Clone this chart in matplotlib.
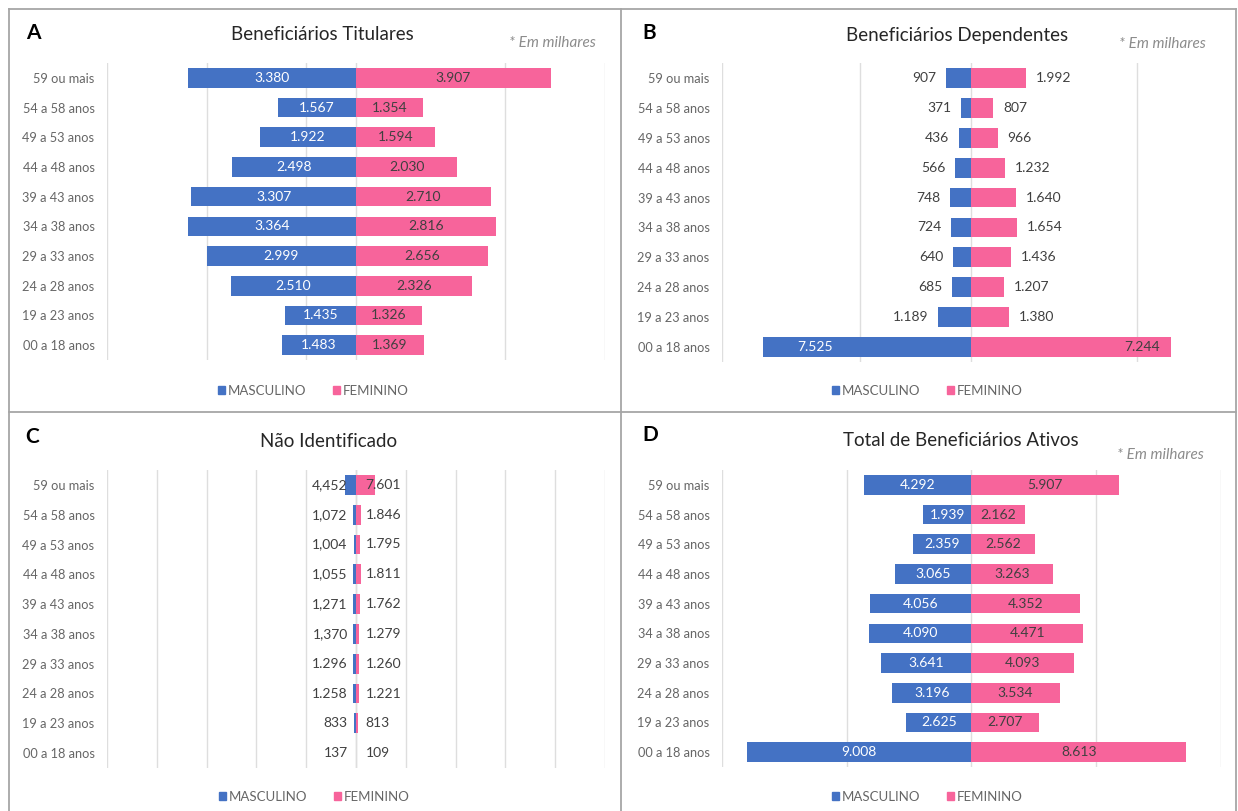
import matplotlib
matplotlib.use('Agg')
import matplotlib.pyplot as plt
from matplotlib.lines import Line2D
from matplotlib.patches import Patch
import numpy as np

plt.rcParams.update({
    'font.family': ['Lato', 'DejaVu Sans'],
    'figure.facecolor': 'w',
})

# faixas etarias, de cima para baixo
faixas = ['59 ou mais', '54 a 58 anos', '49 a 53 anos', '44 a 48 anos',
          '39 a 43 anos', '34 a 38 anos', '29 a 33 anos', '24 a 28 anos',
          '19 a 23 anos', '00 a 18 anos']

titulares_masc = [3380, 1567, 1922, 2498, 3307, 3364, 2999, 2510, 1435, 1483]
titulares_fem = [3907, 1354, 1594, 2030, 2710, 2816, 2656, 2326, 1326, 1369]

dependentes_masc = [907, 371, 436, 566, 748, 724, 640, 685, 1189, 7525]
dependentes_fem = [1992, 807, 966, 1232, 1640, 1654, 1436, 1207, 1380, 7244]

nao_ident_masc = [4452, 1072, 1004, 1055, 1271, 1370, 1296, 1258, 833, 137]
nao_ident_fem = [7601, 1846, 1795, 1811, 1762, 1279, 1260, 1221, 813, 109]
# separador de milhar usado nos rotulos masculinos do painel C
sep_nao_ident_masc = [',', ',', ',', ',', ',', ',', '.', '.', '', '']

total_masc = [4292, 1939, 2359, 3065, 4056, 4090, 3641, 3196, 2625, 9008]
total_fem = [5907, 2162, 2562, 3263, 4352, 4471, 4093, 3534, 2707, 8613]

AZUL = '#4472c4'
ROSA = '#f7649b'
TXT = '#404040'
CINZA = '#666666'
GRADE = '#dedede'
FS = 9.5

W, H = 1238, 811
fig = plt.figure(figsize=(W / 100, H / 100), dpi=100)


def px_axes(x0, y0, x1, y1):
    return fig.add_axes([x0 / W, 1 - y1 / H, (x1 - x0) / W, (y1 - y0) / H])


def fmt(v, sep='.'):
    return f'{v:,}'.replace(',', sep)


def fig_text(x, y, s, **kw):
    fig.text(x / W, 1 - y / H, s, **kw)


def base_axes(box, xlim, grid):
    ax = px_axes(*box)
    ax.set_xlim(*xlim)
    ax.set_ylim(-0.5, len(faixas) - 0.5)
    for g in grid:
        ax.axvline(g, color=GRADE, lw=1, zorder=0)
    ax.axvline(0, color=GRADE, lw=1, zorder=0)
    for s in ax.spines.values():
        s.set_visible(False)
    ax.set_xticks([])
    ypos = np.arange(len(faixas))[::-1]
    ax.set_yticks(ypos)
    ax.set_yticklabels(faixas, fontsize=9.2, color=CINZA)
    ax.tick_params(axis='y', length=0, pad=9)
    return ax, ypos


def bars(ax, ypos, masc, fem):
    ax.barh(ypos, -np.array(masc), height=0.66, color=AZUL, zorder=2)
    ax.barh(ypos, np.array(fem), height=0.66, color=ROSA, zorder=2)


def labels_center(ax, ypos, masc, fem):
    for y, m, f in zip(ypos, masc, fem):
        ax.text(-m / 2, y, fmt(m), ha='center', va='center', fontsize=FS + 0.5,
                color='white', zorder=3)
        ax.text(f / 2, y, fmt(f), ha='center', va='center', fontsize=FS + 0.5,
                color=TXT, zorder=3)


def legenda(cx, cy):
    handles = [Patch(color=AZUL), Patch(color=ROSA)]
    leg = fig.legend(handles, ['MASCULINO', 'FEMININO'], loc='center',
                     bbox_to_anchor=(cx / W, 1 - cy / H), ncol=2, frameon=False,
                     fontsize=FS, handlelength=0.55, handleheight=0.55,
                     handletextpad=0.2, columnspacing=2.0)
    for t in leg.get_texts():
        t.set_color(CINZA)


# A - Beneficiarios Titulares
axA, yA = base_axes((107, 63, 605, 360), (-5000, 5000),
                    [-5000, -3000, -1000, 3000, 5000])
bars(axA, yA, titulares_masc, titulares_fem)
labels_center(axA, yA, titulares_masc, titulares_fem)

# B - Beneficiarios Dependentes
axB, yB = base_axes((722, 63, 1220, 362), (-9000, 9000), [-9000, -4000, 6000])
bars(axB, yB, dependentes_masc, dependentes_fem)
for y, m, f in zip(yB, dependentes_masc, dependentes_fem):
    if m > 5000:
        axB.annotate(fmt(m), (-m, y), xytext=(25, 0), textcoords='offset points',
                     ha='left', va='center', fontsize=FS + 0.5, color='white', zorder=3)
        axB.annotate(fmt(f), (f, y), xytext=(-8, 0), textcoords='offset points',
                     ha='right', va='center', fontsize=FS + 0.5, color=TXT, zorder=3)
    else:
        axB.annotate(fmt(m), (-m, y), xytext=(-7, 0), textcoords='offset points',
                     ha='right', va='center', fontsize=FS + 0.5, color=TXT, zorder=3)
        axB.annotate(fmt(f), (f, y), xytext=(7, 0), textcoords='offset points',
                     ha='left', va='center', fontsize=FS + 0.5, color=TXT, zorder=3)

# C - Nao Identificado
axC, yC = base_axes((107, 470, 605, 768), (-100000, 100000),
                    list(range(-100000, 100001, 20000)))
bars(axC, yC, nao_ident_masc, nao_ident_fem)
for y, m, f, sep in zip(yC, nao_ident_masc, nao_ident_fem, sep_nao_ident_masc):
    axC.annotate(fmt(m, sep or '.'), (0, y), xytext=(-6, 0), textcoords='offset points',
                 ha='right', va='center', fontsize=FS + 0.5, color=TXT, zorder=3)
    axC.annotate(fmt(f), (0, y), xytext=(7, 0), textcoords='offset points',
                 ha='left', va='center', fontsize=FS + 0.5, color=TXT, zorder=3)

# D - Total de Beneficiarios Ativos
axD, yD = base_axes((722, 470, 1221, 767), (-10000, 10000),
                    [-10000, -5000, 5000, 10000])
bars(axD, yD, total_masc, total_fem)
labels_center(axD, yD, total_masc, total_fem)

# titulos e letras dos paineis
for letra, x, y in [('A', 33, 33), ('B', 649, 33), ('C', 32, 437), ('D', 650, 435)]:
    fig_text(x, y, letra, ha='center', va='center', fontsize=15,
             fontweight='bold', color='black')
for titulo, x, y in [('Beneficiários Titulares', 322, 35),
                     ('Beneficiários Dependentes', 957, 35),
                     ('Não Identificado', 329, 442),
                     ('Total de Beneficiários Ativos', 961, 441)]:
    fig_text(x, y, titulo, ha='center', va='center', fontsize=13.5, color='#262626')
for x, y in [(552, 43), (1162, 44), (1160, 455)]:
    fig_text(x, y, '* Em milhares', ha='center', va='center', fontsize=11,
             style='italic', color='#8c8c8c')

legenda(313, 391)
legenda(927, 391)
legenda(314, 797)
legenda(927, 797)

# moldura e divisorias
borda = dict(color='#a6a6a6', lw=1.3, transform=fig.transFigure)
fig.add_artist(Line2D([9 / W, 1236 / W], [1 - 9 / H, 1 - 9 / H], **borda))
fig.add_artist(Line2D([9 / W, 9 / W], [1 - 9 / H, 0], **borda))
fig.add_artist(Line2D([1236 / W, 1236 / W], [1 - 9 / H, 0], **borda))
fig.add_artist(Line2D([621 / W, 621 / W], [1 - 9 / H, 0], **borda))
fig.add_artist(Line2D([9 / W, 1236 / W], [1 - 412 / H, 1 - 412 / H], **borda))

fig.savefig('out.png', dpi=100)
